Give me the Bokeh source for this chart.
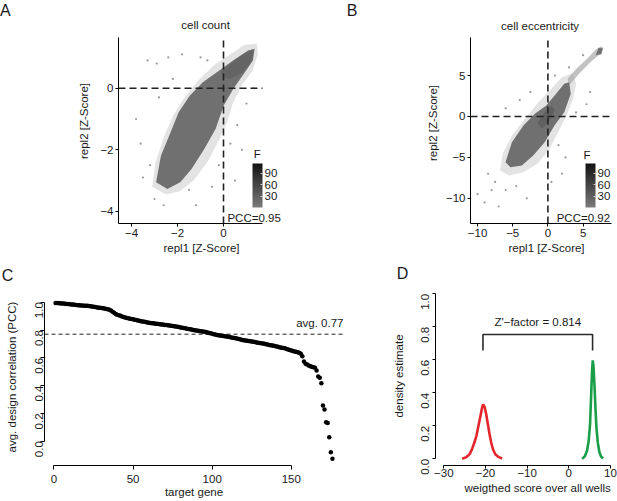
import math
import numpy as np
from bokeh.plotting import figure
from bokeh.layouts import column, row
from bokeh.models import (Label, ColorBar, LinearColorMapper, FixedTicker, AllLabels,
                          CustomJSTickFormatter, Range1d, Title, Div)
from bokeh.embed import file_html
from bokeh.resources import INLINE

# ---------------- data ----------------
# Panel A: cell count, replicate scatter (density cloud outlines)
A_XLIM = [-4.565, 1.696]
A_YLIM = [-4.393, 1.646]
A_halo_x = [-3.1, -2.95, -2.6, -2.2, -1.7, -1.1, -0.4, 0.3, 0.9, 1.45, 1.5, 1.25, 0.8, 0.4, 0.15, -0.2, -0.7, -1.3, -1.9, -2.5]
A_halo_y = [-3.2, -2.4, -1.6, -0.9, -0.3, 0.25, 0.75, 1.1, 1.4, 1.45, 1.1, 0.55, 0.1, -0.5, -1.1, -1.7, -2.4, -3.0, -3.35, -3.45]
A_core_x = [-2.93, -2.72, -2.30, -1.95, -1.46, -0.90, -0.20, 0.51, 1.07, 1.35, 1.28, 0.93, 0.43, 0.01, -0.34, -0.83, -1.39, -1.88, -2.44]
A_core_y = [-3.05, -2.19, -1.43, -0.78, -0.24, 0.19, 0.57, 0.95, 1.22, 1.28, 0.90, 0.52, -0.02, -0.56, -1.32, -1.97, -2.62, -3.05, -3.27]
A_dense_x = [-0.1, 0.5, 1.0, 1.3, 1.2, 0.8, 0.3, -0.05]
A_dense_y = [0.55, 0.9, 1.15, 1.25, 0.85, 0.5, 0.3, 0.35]
A_out_x = [-3.3, -2.9, -2.4, -1.8, -3.6, -3.0, -2.6, -1.2, 0.5, 0.8, -0.5, -3.8, -1.0, -2.2, 0.6, -3.2, -0.2, 1.0, -2.8, -1.5, -0.7, 0.3, -3.5, 1.3]
A_out_y = [0.9, 0.8, 1.0, 1.1, -1.8, -3.6, -3.8, -3.8, -3.0, -2.0, -3.2, -1.0, 1.0, 0.3, -1.2, -2.5, -2.5, -0.5, -0.3, -3.3, 0.9, -1.8, -2.9, 0.0]
A_PCC = "PCC=0.95"

# Panel B: cell eccentricity
B_XLIM = [-11.0, 9.2]
B_YLIM = [-13.08, 9.66]
B_halo_x = [-6.8, -6.4, -5.0, -3.2, -1.5, 0.3, 2.0, 3.5, 4.0, 3.6, 2.6, 1.4, 0.2, -1.5, -3.5, -5.5]
B_halo_y = [-6.6, -4.5, -2.2, -0.2, 1.6, 3.2, 4.8, 5.3, 4.0, 2.2, 0.0, -2.0, -4.0, -5.8, -6.8, -7.2]
B_core_x = [-6.03, -5.11, -3.48, -1.85, -0.23, 1.16, 2.32, 3.02, 3.25, 2.32, 0.93, -0.46, -2.09, -3.71, -5.33]
B_core_y = [-5.59, -3.14, -1.10, 0.33, 1.34, 2.77, 4.0, 4.2, 2.77, 0.53, -1.10, -3.14, -4.77, -5.99, -6.2]
B_tail_x = [3.0, 4.5, 6.0, 7.2, 7.9, 7.6, 6.8, 5.5, 4.0, 2.8]
B_tail_y = [3.8, 5.3, 6.6, 7.5, 8.3, 8.6, 8.2, 7.0, 5.8, 4.6]
B_dense_x = [-1.5, -0.5, 0.5, 1.0, 0.2, -0.8]
B_dense_y = [-0.8, 0.5, 1.3, 0.8, -0.5, -1.5]
B_clump_x = [6.8, 7.6, 7.8, 7.2]
B_clump_y = [7.5, 7.6, 8.3, 8.4]
B_out_x = [-9.0, -8.0, -7.5, -10.0, -6.0, -3.0, 2.0, 1.5, -4.0, -6.0, 4.0, 2.5, -2.5, 6.0, -8.5, 5.0, 3.0, -7.0, 0.5, -4.5, 1.0, 5.5]
B_out_y = [-10.5, -9.0, -8.0, -9.5, -9.0, -10.0, -7.0, -3.5, 2.0, 1.0, 0.5, -5.0, 3.0, 3.0, -7.0, 7.5, 6.0, -11.0, -8.0, -8.5, 5.0, 1.5]
B_PCC = "PCC=0.92"

CB_TICKS = [30, 60, 90]
CB_LOW, CB_HIGH = 0, 115

# Panel C: average design correlation per target gene (sorted)
C_pcc = [0.995, 0.994, 0.993, 0.992, 0.991, 0.990, 0.989, 0.988, 0.987, 0.985,
         0.984, 0.983, 0.982, 0.980, 0.979, 0.978, 0.977, 0.976, 0.975, 0.975,
         0.974, 0.973, 0.971, 0.969, 0.967, 0.965, 0.963, 0.961, 0.960, 0.958,
         0.956, 0.954, 0.952, 0.950, 0.946, 0.940, 0.932, 0.924, 0.916, 0.910,
         0.906, 0.902, 0.898, 0.894, 0.890, 0.887, 0.884, 0.881, 0.879, 0.877,
         0.874, 0.872, 0.869, 0.867, 0.864, 0.862, 0.860, 0.857, 0.855, 0.853,
         0.851, 0.849, 0.848, 0.846, 0.845, 0.843, 0.842, 0.840, 0.839, 0.837,
         0.836, 0.834, 0.832, 0.831, 0.829, 0.827, 0.825, 0.823, 0.821, 0.819,
         0.817, 0.815, 0.812, 0.810, 0.808, 0.806, 0.803, 0.801, 0.799, 0.797,
         0.795, 0.793, 0.791, 0.789, 0.787, 0.785, 0.782, 0.779, 0.776, 0.773,
         0.770, 0.768, 0.765, 0.763, 0.761, 0.759, 0.757, 0.755, 0.753, 0.751,
         0.749, 0.747, 0.745, 0.743, 0.741, 0.738, 0.735, 0.732, 0.729, 0.727,
         0.725, 0.723, 0.721, 0.719, 0.717, 0.715, 0.713, 0.711, 0.709, 0.707,
         0.705, 0.703, 0.701, 0.698, 0.695, 0.692, 0.690, 0.688, 0.686, 0.684,
         0.681, 0.678, 0.675, 0.673, 0.671, 0.668, 0.664, 0.660, 0.656, 0.652,
         0.649, 0.646, 0.643, 0.640, 0.636, 0.630, 0.612, 0.573, 0.557, 0.552,
         0.545, 0.540, 0.535, 0.532, 0.528, 0.509, 0.465, 0.456, 0.417, 0.257,
         0.228, 0.137, 0.130, 0.029, -0.079, -0.127]
C_gene = list(range(1, len(C_pcc) + 1))
C_avg = 0.77
C_avg_text = "avg. 0.77"

# Panel D: density of weighted scores (negative / positive controls)
D_red_x = [-25.6, -24.56, -23.76, -23.2, -22.64, -22.16, -21.68, -21.2, -20.8, -20.56, -20.24, -19.84,
           -19.44, -19.04, -18.64, -18.16, -17.6, -16.8, -16.0]
D_red_y = [0.0, 0.01, 0.03, 0.06, 0.10, 0.141, 0.20, 0.26, 0.313, 0.329, 0.317, 0.273,
           0.212, 0.152, 0.10, 0.055, 0.026, 0.01, 0.002]
D_green_x = [3.18, 3.82, 4.38, 4.78, 5.1, 5.34, 5.58, 5.74, 5.9, 6.14, 6.38, 6.62, 6.94, 7.34, 7.74, 8.22]
D_green_y = [0.0, 0.014, 0.05, 0.111, 0.212, 0.374, 0.535, 0.596, 0.566, 0.455, 0.313, 0.192, 0.101, 0.04, 0.014, 0.002]
D_bracket_x = [[-20.6, -20.6, 5.7, 5.7]]
D_bracket_y = [[0.657, 0.753, 0.753, 0.657]]
D_zfactor = "Z'\u2212factor = 0.814"

# ---------------- styling helpers ----------------
FONT = "Liberation Sans"
FS = "11.5px"
TXT = "#1a1a1a"

minus_fmt = CustomJSTickFormatter(code="return (tick < 0 ? '\\u2212' : '') + Math.abs(tick).toString();")
dec_fmt = CustomJSTickFormatter(code="return tick.toFixed(1);")


def make_fig(w, h, xr, yr, left, right, top, bottom):
    p = figure(width=w, height=h, x_range=Range1d(*xr), y_range=Range1d(*yr),
               output_backend="svg", toolbar_location=None,
               min_border_left=left, min_border_right=right,
               min_border_top=top, min_border_bottom=bottom)
    p.xgrid.visible = False
    p.ygrid.visible = False
    p.outline_line_color = None
    p.background_fill_color = "white"
    p.border_fill_color = "white"
    for ax in (p.xaxis[0], p.yaxis[0]):
        ax.axis_line_color = "black"
        ax.axis_line_width = 1
        ax.major_tick_line_color = "black"
        ax.minor_tick_line_color = None
        ax.major_label_text_font = FONT
        ax.major_label_text_font_size = FS
        ax.major_label_text_color = TXT
    return p


def side_div(w, h, letter, lx, ly, ylabel, cx, cy):
    """Panel letter and rotated y-axis title, placed in a narrow text column."""
    base = "position:absolute;white-space:nowrap;line-height:1;font-family:'Liberation Sans';color:%s;" % TXT
    html = (
        '<div style="position:relative;width:%dpx;height:%dpx;margin:0;padding:0;">' % (w, h)
        + '<span style="%sleft:%.1fpx;top:%.1fpx;font-size:16px;">%s</span>' % (base, lx, ly, letter)
        + '<span style="%sleft:%.1fpx;top:%.1fpx;font-size:%s;transform:translate(-50%%,-50%%) rotate(-90deg);">%s</span>'
        % (base, cx, cy, FS, ylabel)
        + '</div>'
    )
    return Div(text=html, width=w, height=h, margin=0, disable_math=True)


def lab(p, x, y, text, size=FS, angle=0.0, align="center", baseline="middle", **kw):
    p.add_layout(Label(x=x, y=y, x_units="data", y_units="data", text=text, angle=angle,
                       text_align=align, text_baseline=baseline, text_font=FONT,
                       text_font_size=size, text_color=TXT, **kw))


def below_title(p, text, offset):
    p.add_layout(Title(text=text, align="left", offset=offset, standoff=0,
                       text_font=FONT, text_font_size=FS, text_font_style="normal",
                       text_color=TXT), "below")


greys = ["#%02x%02x%02x" % (v, v, v) for v in np.linspace(0x7a, 0x14, 64).astype(int)]


def add_cbar(p, loc):
    mapper = LinearColorMapper(palette=greys, low=CB_LOW, high=CB_HIGH)
    cb = ColorBar(color_mapper=mapper, ticker=FixedTicker(ticks=CB_TICKS),
                  width=10, height=44, location=loc, padding=0, margin=0,
                  label_standoff=2, major_label_policy=AllLabels(),
                  major_label_text_font=FONT, major_label_text_font_size=FS,
                  major_label_text_color=TXT,
                  major_tick_line_color="#d0d0d0", major_tick_in=2, major_tick_out=0,
                  minor_tick_line_color=None,
                  bar_line_color=None, border_line_color=None, background_fill_alpha=0)
    p.add_layout(cb, "center")


def style_ab(p, xt, yt, xlim, ylim):
    p.xaxis.ticker = FixedTicker(ticks=xt)
    p.yaxis.ticker = FixedTicker(ticks=yt)
    p.xaxis.bounds = tuple(xlim)
    p.yaxis.bounds = tuple(ylim)
    for ax in (p.xaxis[0], p.yaxis[0]):
        ax.formatter = minus_fmt
        ax.major_tick_out = 3
        ax.major_tick_in = 0
        ax.major_label_standoff = 2


DASH_AB = dict(line_dash="7 4", line_width=1.6, line_color="#222222")

# ---------------- Row 1 ----------------
H1 = 256
sA = side_div(93, H1, "A", 0, 3, "repl2 [Z-Score]", 85, 121)

pA = make_fig(225, H1, (-4.565, 4.13), (-4.393, 2.847), 25, 0, 0, H1 - 223)
style_ab(pA, [-4, -2, 0], [-4, -2, 0], A_XLIM, A_YLIM)
pA.patch(A_halo_x, A_halo_y, fill_color="#c8c8c8", fill_alpha=0.5, line_color=None)
pA.patch(A_core_x, A_core_y, fill_color="#707070", line_color=None)
pA.patch(A_dense_x, A_dense_y, fill_color="#646464", line_color=None)
pA.scatter(A_out_x, A_out_y, size=2.2, color="#9a9a9a", line_color=None)
pA.segment(x0=[A_XLIM[0]], y0=[0], x1=[A_XLIM[1]], y1=[0], **DASH_AB)
pA.segment(x0=[0], y0=[A_YLIM[0]], x1=[0], y1=[A_YLIM[1]], **DASH_AB)
add_cbar(pA, (134, 16))
lab(pA, -0.78, 2.04, "cell count")
lab(pA, 0.17, -4.20, A_PCC, align="left")
lab(pA, 1.32, -2.15, "F", align="left")
below_title(pA, "repl1 [Z-Score]", 45)

sB = side_div(124, H1, "B", 28.7, 3, "repl2 [Z-Score]", 116, 122.5)

pB = make_fig(175, H1, (-11.0, 9.89), (-13.08, 14.18), 25, 0, 0, H1 - 223)
style_ab(pB, [-10, -5, 0, 5], [-10, -5, 0, 5], [-11.0, 9.0], B_YLIM)
pB.patch(B_halo_x, B_halo_y, fill_color="#c8c8c8", fill_alpha=0.5, line_color=None)
pB.patch(B_tail_x, B_tail_y, fill_color="#a8a8a8", fill_alpha=0.7, line_color=None)
pB.patch(B_core_x, B_core_y, fill_color="#707070", line_color=None)
pB.patch(B_dense_x, B_dense_y, fill_color="#606060", line_color=None)
pB.patch(B_clump_x, B_clump_y, fill_color="#707070", line_color=None)
pB.scatter(B_out_x, B_out_y, size=2.2, color="#9a9a9a", line_color=None)
pB.segment(x0=[B_XLIM[0]], y0=[0], x1=[B_XLIM[1]], y1=[0], **DASH_AB)
pB.segment(x0=[0], y0=[B_YLIM[0]], x1=[0], y1=[B_YLIM[1]], **DASH_AB)
add_cbar(pB, (115, 16))
lab(pB, -1.11, 11.12, "cell eccentricity")
lab(pB, 1.25, -12.35, B_PCC, align="left")
lab(pB, 5.06, -4.65, "F", align="left")
below_title(pB, "repl1 [Z-Score]", 38)

# ---------------- Row 2 ----------------
H2 = 245
TOP2, BOT2 = 31, 36   # equal borders so that both frames span the same rows
sC = side_div(26, H2, "C", 1.7, 12, "avg. design correlation (PCC)", 12.5, 121)

pC = make_fig(364, H2, (-6, 183), (-0.175, 1.106), 18, 47, TOP2, BOT2)
pC.xaxis.ticker = FixedTicker(ticks=[0, 50, 100, 150])
pC.yaxis.ticker = FixedTicker(ticks=[0.0, 0.2, 0.4, 0.6, 0.8, 1.0])
pC.yaxis.formatter = dec_fmt
pC.xaxis.bounds = (0, 150)
pC.yaxis.bounds = (0, 1)
pC.yaxis.major_label_orientation = math.pi / 2
for ax in (pC.xaxis[0], pC.yaxis[0]):
    ax.major_tick_out = 4
    ax.major_tick_in = 0
pC.xaxis.major_label_standoff = 5
pC.yaxis.major_label_standoff = 1
pC.xaxis.axis_label = "target gene"
pC.xaxis.axis_label_standoff = 0
pC.xaxis.axis_label_text_font = FONT
pC.xaxis.axis_label_text_font_size = FS
pC.xaxis.axis_label_text_font_style = "normal"
pC.xaxis.axis_label_text_color = TXT
pC.segment(x0=[-6], y0=[C_avg], x1=[183], y1=[C_avg], line_dash="4 3", line_width=1, line_color="#222222")
pC.scatter(C_gene, C_pcc, size=4.5, color="black", line_color=None)
lab(pC, 183, C_avg, C_avg_text, align="right", y_offset=11)

sD = side_div(19, H2, "D", 6.7, 10, "density estimate", 10, 120)

pD = make_fig(208, H2, (-31.99, 11.68), (-0.0406, 1.038), 26, 0, TOP2, BOT2)
pD.xaxis.ticker = FixedTicker(ticks=[-30, -20, -10, 0, 10])
pD.yaxis.ticker = FixedTicker(ticks=[0.0, 0.2, 0.4, 0.6, 0.8, 1.0])
pD.xaxis.formatter = minus_fmt
pD.yaxis.formatter = dec_fmt
pD.xaxis.bounds = (-30, 10)
pD.yaxis.bounds = (0, 1)
pD.yaxis.major_label_orientation = math.pi / 2
for ax in (pD.xaxis[0], pD.yaxis[0]):
    ax.major_tick_out = 3
    ax.major_tick_in = 0
pD.xaxis.major_label_standoff = 0
pD.yaxis.major_label_standoff = 7
pD.line(D_red_x, D_red_y, line_color="#e3262b", line_width=2.6)
pD.line(D_green_x, D_green_y, line_color="#1a9e48", line_width=2.6)
pD.multi_line(D_bracket_x, D_bracket_y, line_color="#2a2a2a", line_width=1.6)
lab(pD, -7.45, 0.83, D_zfactor)
below_title(pD, "weigthed score over all wells", 29)

layout = column(row(sA, pA, sB, pB), row(sC, pC, sD, pD))

open("out.html", "w").write(file_html(layout, INLINE))
